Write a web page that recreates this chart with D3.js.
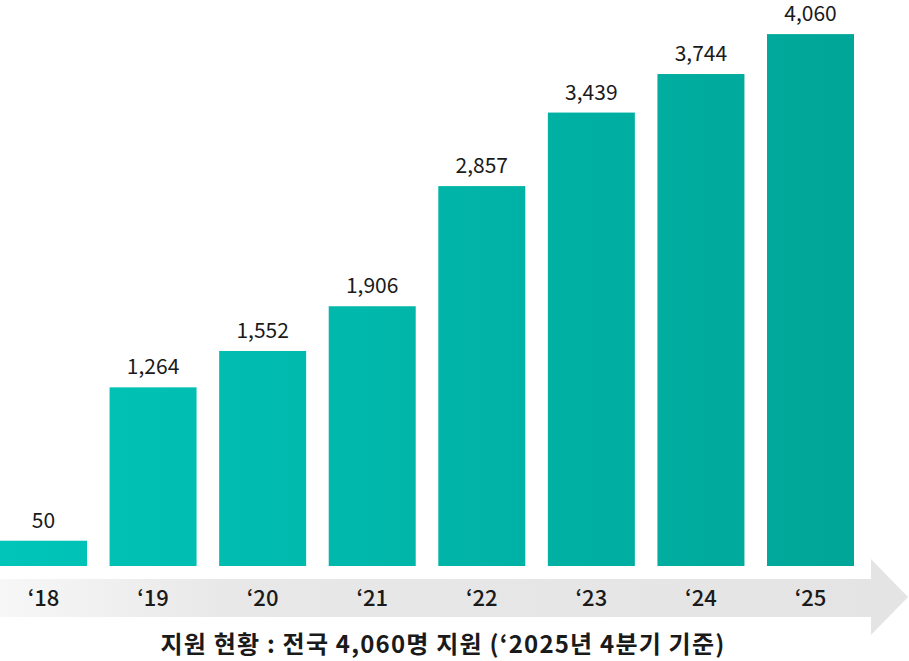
<!DOCTYPE html>
<html><head><meta charset="utf-8">
<script src="https://cdn.jsdelivr.net/npm/d3@7"></script>
<style>
html,body{margin:0;padding:0;background:#fff;}
svg{display:block;font-family:"Noto Sans CJK KR","Noto Sans",sans-serif;}
</style></head>
<body>
<svg id="chart" width="909" height="661"></svg>
<script>
const years = ["‘18","‘19","‘20","‘21","‘22","‘23","‘24","‘25"];
const supportCounts = [50, 1264, 1552, 1906, 2857, 3439, 3744, 4060];
const titleText = "지원 현황 : 전국 4,060명 지원 (‘2025년 4분기 기준)";

const svg = d3.select("#chart");
const baseY = 566;

const x = d3.scaleBand().domain(years).range([0, 854]).paddingInner(0.206).paddingOuter(0);
const y = d3.scaleLinear().domain([-150, 4330]).range([baseY, 0]);

const defs = svg.append("defs");
const barGrad = defs.append("linearGradient").attr("id","barGrad")
  .attr("gradientUnits","userSpaceOnUse").attr("x1",0).attr("x2",854).attr("y1",0).attr("y2",0);
barGrad.append("stop").attr("offset","0%").attr("stop-color","#00C5B9");
barGrad.append("stop").attr("offset","100%").attr("stop-color","#00A698");

const arrowGrad = defs.append("linearGradient").attr("id","arrowGrad")
  .attr("gradientUnits","userSpaceOnUse").attr("x1",0).attr("x2",909).attr("y1",0).attr("y2",0);
arrowGrad.append("stop").attr("offset","0%").attr("stop-color","#F7F7F7");
arrowGrad.append("stop").attr("offset","25%").attr("stop-color","#E8E8E8");
arrowGrad.append("stop").attr("offset","100%").attr("stop-color","#E4E4E4");

// arrow band
const bandTop = 579, bandBot = 617, headTop = 559, headBot = 635, headX = 871, tipX = 908;
const path = d3.path();
path.moveTo(0, bandTop); path.lineTo(headX, bandTop); path.lineTo(headX, headTop);
path.lineTo(tipX, (headTop+headBot)/2); path.lineTo(headX, headBot); path.lineTo(headX, bandBot);
path.lineTo(0, bandBot); path.closePath();
svg.append("path").attr("d", path.toString()).attr("fill","url(#arrowGrad)");

// bars
svg.append("g").selectAll("rect").data(supportCounts).join("rect")
  .attr("x",(d,i)=>x(years[i]))
  .attr("width",x.bandwidth())
  .attr("y",d=>y(d))
  .attr("height",d=>baseY - y(d))
  .attr("fill","url(#barGrad)");

// value labels
svg.append("g").selectAll("text").data(supportCounts).join("text")
  .attr("x",(d,i)=>x(years[i]) + x.bandwidth()/2)
  .attr("y",d=>y(d) - 13)
  .attr("text-anchor","middle")
  .attr("font-size",21).attr("font-weight",400).attr("fill","#1a1a1a")
  .text(d=>d3.format(",")(d));

// year labels
svg.append("g").selectAll("text").data(years).join("text")
  .attr("x",d=>x(d) + x.bandwidth()/2)
  .attr("y",606)
  .attr("text-anchor","middle")
  .attr("font-size",22).attr("font-weight",500).attr("fill","#1a1a1a")
  .text(d=>d);

// title
svg.append("text").attr("x",443).attr("y",653).attr("text-anchor","middle")
  .attr("font-size",24).attr("font-weight",700).attr("fill","#1a1a1a")
  .attr("letter-spacing","1.2px")
  .text(titleText);
</script>
</body></html>
